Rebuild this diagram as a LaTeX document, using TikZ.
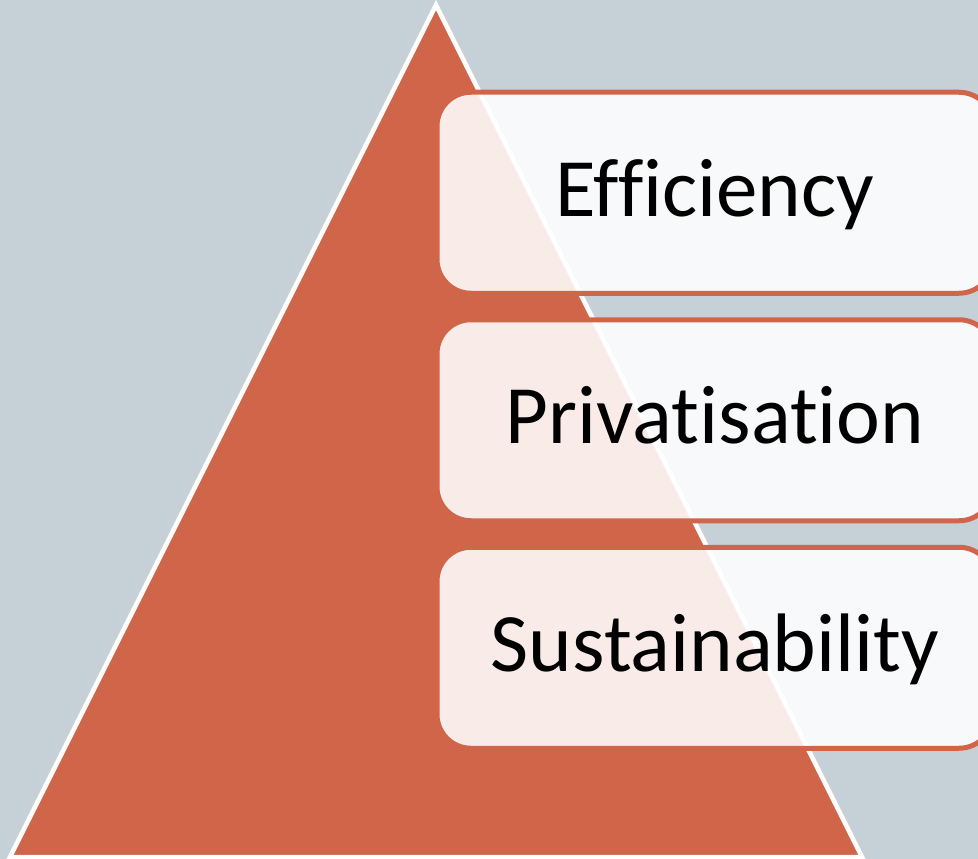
\documentclass[tikz,border=0pt]{standalone}
\usepackage{fontspec}
\setmainfont{Carlito}[Ligatures={NoCommon}]
\usepackage{xcolor}
\usepackage{tikz}
\usetikzlibrary{calc, positioning}
\definecolor{slate}{RGB}{197,209,215}
\definecolor{brick}{RGB}{209,101,74}
\begin{document}
\begin{tikzpicture}
                      [x=1pt, y=-1pt, node distance=26.5pt,
                       goal/.style={draw=brick, line width=5pt, fill=white, fill opacity=0.88,
                         text opacity=1, rounded corners=34pt, outer sep=0pt,
                         minimum width=556pt, minimum height=201pt, text centered,
                         font=\fontsize{83}{100}\selectfont, text height=60pt, text depth=13pt}]
                      % frame %
                      \useasboundingbox (0,0) rectangle (978,859);
                      \clip (0,0) rectangle (978,859);
                      \fill[slate] (0,0) rectangle (978,859);

                      % pyramid %
                      \coordinate (top) at (436,5);
                      \coordinate (bl) at (10,857);
                      \coordinate (br) at (862,857);
                      \draw[fill=brick, draw=white, line width=4.5pt, line join=miter] (top) -- (bl) -- (br) -- cycle;

                      % nodes %
                      \node[goal] (eff) at (715,192.75) {Efficiency};
                      \node[goal, below=of eff] (priv) {Privatisation};
                      \node[goal, below=of priv] (sust) {Sustainability};
                    \end{tikzpicture}
\end{document}
